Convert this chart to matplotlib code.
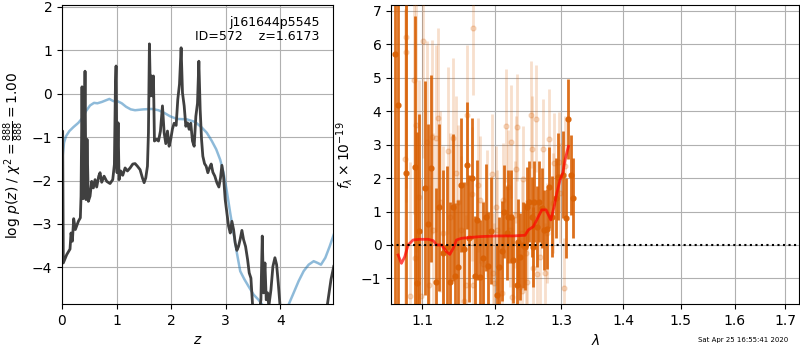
import matplotlib
matplotlib.use("Agg")
import matplotlib.pyplot as plt
from matplotlib.ticker import NullLocator, FixedLocator, FixedFormatter

# ---- redshift probability: log p(z) ----
z_pz = [0.0, 0.012, 0.024, 0.086, 0.147, 0.165, 0.19, 0.214, 0.245, 0.30, 0.336,
        0.349, 0.367, 0.385, 0.404, 0.422, 0.44, 0.459, 0.483, 0.514, 0.544,
        0.575, 0.606, 0.636, 0.673, 0.697, 0.728, 0.771, 0.82, 0.88, 0.93,
        0.96, 0.979, 0.991, 1.009, 1.028, 1.046, 1.076, 1.113, 1.156, 1.199,
        1.248, 1.297, 1.339, 1.382, 1.431, 1.474, 1.505, 1.535, 1.566, 1.584,
        1.602, 1.621, 1.639, 1.657, 1.676, 1.694, 1.731, 1.768, 1.804, 1.841,
        1.872, 1.902, 1.933, 1.963, 1.994, 2.024, 2.055, 2.092, 2.122, 2.153,
        2.183, 2.208, 2.239, 2.269, 2.30, 2.33, 2.36, 2.391, 2.422, 2.453,
        2.483, 2.508, 2.532, 2.557, 2.581, 2.612, 2.642, 2.673, 2.703, 2.734,
        2.765, 2.801, 2.838, 2.875, 2.905, 2.93, 2.96, 2.991, 3.021, 3.052,
        3.083, 3.113, 3.144, 3.174, 3.205, 3.235, 3.266, 3.297, 3.327, 3.364,
        3.401, 3.431, 3.462, 3.492, 3.52, 3.60, 3.645, 3.67, 3.694, 3.719,
        3.743, 3.768, 3.79, 3.829, 3.865, 3.902, 3.933, 3.963, 3.994, 4.03,
        4.795, 4.868, 4.93, 4.98]
logp = [-0.86, -0.86, -3.90, -3.71, -3.58, -3.21, -3.40, -2.88, -3.13, -2.94, -2.86,
        -2.36, 0.16, -2.42, -1.82, 0.52, -2.44, -1.05, -2.48, -2.36, -2.02,
        -2.17, -1.98, -2.15, -1.90, -1.82, -2.04, -1.90, -2.02, -2.07, -1.98,
        -1.63, 0.18, 0.64, -1.82, -0.67, -1.98, -1.78, -1.88, -1.71, -1.78,
        -1.71, -1.62, -1.61, -1.67, -1.75, -1.94, -2.05, -1.94, -1.67, -0.90,
        1.15, -0.05, 0.41, -0.05, 0.41, -1.09, -1.05, -1.09, -0.86, -0.28,
        -0.90, -1.15, -0.86, -1.21, -1.04, -0.81, -0.68, -0.73, -0.13, 0.22,
        1.06, 0.02, -0.28, -0.75, -0.67, -0.82, -0.68, -1.09, -1.21, -0.52,
        -0.22, 0.75, -0.36, -1.05, -1.44, -1.61, -1.67, -1.82, -1.71, -1.62,
        -1.81, -1.90, -2.05, -2.15, -1.94, -1.65, -1.90, -2.44, -2.75, -3.05,
        -3.21, -2.94, -3.13, -3.44, -3.61, -3.52, -3.35, -3.15, -3.36, -3.52,
        -3.82, -4.13, -4.25, -4.86, -5.2, -5.2, -4.75, -3.28, -4.59, -3.90,
        -4.75, -4.59, -4.90, -4.52, -3.98, -3.78, -3.94, -4.36, -4.86, -5.36,
        -5.36, -4.82, -4.28, -3.98]

# ---- prior-like smooth curve ----
z_prior = [0.0, 0.012, 0.037, 0.073, 0.135, 0.208, 0.30, 0.379, 0.44, 0.514, 0.587,
           0.648, 0.728, 0.807, 0.868, 0.942, 1.015, 1.095, 1.174, 1.26, 1.339,
           1.492, 1.645, 1.768, 1.872, 1.982, 2.104, 2.287, 2.44, 2.563, 2.654,
           2.746, 2.826, 2.899, 2.96, 3.021, 3.083, 3.144, 3.205, 3.266, 3.339,
           3.419, 3.511, 3.602, 3.694, 3.817, 4.06, 4.153, 4.245, 4.336, 4.428,
           4.52, 4.612, 4.685, 4.746, 4.826, 4.905, 4.979]
logp_prior = [-1.55, -1.44, -1.13, -0.98, -0.86, -0.77, -0.67, -0.55, -0.40, -0.27, -0.21,
              -0.22, -0.19, -0.15, -0.12, -0.17, -0.17, -0.22, -0.30, -0.36, -0.38,
              -0.36, -0.35, -0.38, -0.44, -0.52, -0.58, -0.59, -0.65, -0.78, -0.90,
              -1.09, -1.28, -1.52, -1.82, -2.25, -2.75, -3.21, -3.67, -4.09, -4.27,
              -4.44, -4.63, -4.75, -4.90, -5.2, -5.2, -4.86, -4.59, -4.32, -4.09,
              -3.94, -3.86, -3.90, -3.94, -3.78, -3.52, -3.25]

# ---- spectrum, weighted points ----
wave_a = [1.0644, 1.0687, 1.0786, 1.0903, 1.0938, 1.0961, 1.1036, 1.1080, 1.1120,
          1.1182, 1.1227, 1.1281, 1.1327, 1.1381, 1.1418, 1.1440, 1.1482, 1.1523,
          1.1570, 1.1611, 1.1639, 1.1682, 1.1719, 1.1752, 1.1790, 1.1837, 1.1875,
          1.1909, 1.1942, 1.2038, 1.2067, 1.2110, 1.2135, 1.2174, 1.2198, 1.2232,
          1.2271, 1.2320, 1.2345, 1.2370, 1.2411, 1.2446, 1.2481, 1.2511, 1.2545,
          1.2570, 1.2585, 1.2621, 1.2656, 1.2697, 1.2733, 1.2774, 1.2814, 1.2850,
          1.2917, 1.2954, 1.3021, 1.3068, 1.3110, 1.3152, 1.3189]
flux_a = [5.71, 4.19, 2.14, 2.34, -1.13, 0.43, 1.69, 0.63, 2.29,
          -1.10, 1.13, -0.25, -0.05, -1.10, 1.13, -0.93, -0.65, 1.79,
          -0.13, 2.38, 0.20, 1.99, -0.93, 0.75, -0.95, -0.40, 0.83,
          -0.62, 0.42, -1.50, -0.65, -0.17, 1.00, 0.35, 0.85, 0.85,
          -0.45, -1.20, 0.08, -0.35, 0.00, -0.05, 1.13, 1.30, 0.83,
          -0.07, 1.30, 0.55, 1.30, 1.10, 0.45, 0.47, 1.72, 0.85,
          1.40, 2.04, 2.10, 0.80, 3.76, 2.10, 1.40]
err_a = [8.0, 7.0, 5.5, 4.5, 4.5, 3.5, 3.2, 3.0, 2.8,
         2.8, 2.5, 2.5, 2.4, 2.4, 2.2, 2.2, 2.0, 2.0,
         2.0, 1.9, 1.9, 1.8, 1.8, 1.8, 1.7, 1.7, 1.6,
         1.6, 1.6, 1.5, 1.5, 1.5, 1.4, 1.4, 1.4, 1.4,
         1.3, 1.3, 1.3, 1.3, 1.3, 1.3, 1.2, 1.2, 1.2,
         1.2, 1.2, 1.2, 1.2, 1.2, 1.2, 1.2, 1.2, 1.2,
         1.2, 1.3, 1.3, 1.2, 1.2, 1.2, 1.2]

# ---- spectrum, unweighted points ----
wave_b = [1.0773, 1.0786, 1.0795, 1.0839, 1.0891, 1.0903, 1.0925, 1.0957, 1.0992,
          1.1014, 1.1067, 1.1093, 1.1125, 1.1147, 1.1191, 1.1214, 1.1236, 1.1281,
          1.1350, 1.1372, 1.1418, 1.1463, 1.1486, 1.1532, 1.1565, 1.1602, 1.1592,
          1.1672, 1.1686, 1.1696, 1.1757, 1.1790, 1.1837, 1.1885, 1.1956, 1.1970,
          1.1990, 1.2018, 1.2029, 1.2101, 1.2125, 1.2159, 1.2198, 1.2222, 1.2232,
          1.2257, 1.2296, 1.2311, 1.2320, 1.2360, 1.2395, 1.2405, 1.2421, 1.2471,
          1.2460, 1.2531, 1.2556, 1.2570, 1.2606, 1.2621, 1.2672, 1.2723, 1.2748,
          1.2774, 1.2814, 1.2876, 1.2891, 1.2969, 1.2980, 1.3058, 1.3047]
flux_b = [2.56, 5.78, 6.21, -1.53, 4.94, -0.40, 3.59, 1.43, -1.53,
          6.11, 3.09, -1.20, 3.24, 0.45, 3.19, 3.79, 1.30, 0.35,
          2.82, 0.85, 3.19, 2.16, 1.30, 0.45, -1.69, 3.89, -1.20,
          1.53, 6.48, -1.20, 1.79, 1.35, -0.57, 0.93, 2.12, -0.85,
          -1.13, 1.15, 0.45, -1.45, 1.35, 3.57, 1.74, 0.45, 3.09,
          -1.55, 0.90, 2.26, 3.52, -1.25, -1.37, 0.35, 1.96, -1.10,
          -0.25, 3.89, 2.86, -0.70, 3.77, -0.87, -0.35, 2.86, -0.85,
          0.35, 3.16, 1.25, 2.44, 2.49, 1.55, 2.36, -1.30]
err_b = [4.5, 4.5, 4.5, 4.0, 4.0, 4.0, 3.8, 3.5, 3.5,
         3.5, 3.0, 3.0, 2.9, 2.9, 2.8, 2.7, 2.7, 2.6,
         2.5, 2.5, 2.4, 2.3, 2.3, 2.2, 2.2, 2.1, 2.1,
         2.0, 2.0, 2.0, 2.0, 1.9, 1.9, 1.9, 1.8, 1.8,
         1.8, 1.8, 1.8, 1.7, 1.7, 1.7, 1.7, 1.7, 1.7,
         1.7, 1.6, 1.6, 1.6, 1.6, 1.6, 1.6, 1.6, 1.6,
         1.6, 1.6, 1.6, 1.6, 1.6, 1.6, 1.5, 1.5, 1.5,
         1.5, 1.5, 1.5, 1.5, 1.5, 1.5, 1.5, 1.5]

# ---- best-fit model ----
wave_model = [1.0688, 1.0731, 1.0774, 1.0817, 1.0882, 1.0970, 1.1080, 1.1147, 1.1192,
              1.1259, 1.1327, 1.1372, 1.1418, 1.1464, 1.1533, 1.1626, 1.1790, 1.2029,
              1.2272, 1.2445, 1.2495, 1.2570, 1.2698, 1.2764, 1.2836, 1.2887, 1.2928,
              1.2980, 1.3021, 1.3058, 1.3095, 1.3110]
flux_model = [-0.30, -0.55, -0.35, 0.00, 0.15, 0.17, 0.17, 0.13, 0.00,
              0.00, -0.20, -0.28, -0.10, 0.15, 0.20, 0.22, 0.25, 0.27,
              0.27, 0.29, 0.45, 0.55, 1.05, 1.05, 0.75, 1.15, 1.55,
              1.95, 2.15, 2.55, 2.84, 2.95]

xticks_z = [0, 1, 2, 3, 4]
xticks_wave = [1.1, 1.2, 1.3, 1.4, 1.5, 1.6, 1.7]
xtick_labels_wave = ["1.1", "1.2", "1.3", "1.4", "1.5", "1.6", "1.7"]

fig = plt.figure(figsize=(8, 3.5), dpi=100)

# ---- left panel ----
ax1 = fig.add_axes([0.0775, 0.131, 0.339, 0.854])
ax1.plot(z_prior, logp_prior, color="tab:blue", alpha=0.5, lw=1.8)
ax1.plot(z_pz, logp, color="0.25", lw=2)
ax1.set_xlim(0, 4.97)
ax1.set_ylim(-4.85, 2.04)
ax1.set_xticks(xticks_z)
ax1.grid(True)
ax1.set_xlabel(r"$z$", fontsize=10)
ax1.set_ylabel(r"log $p(z)$ / $\chi^2=\frac{888}{888}=1.00$", fontsize=10)
ax1.text(0.95, 0.965, "j161644p5545\nID=572    z=1.6173", transform=ax1.transAxes,
         ha="right", va="top", fontsize=9, linespacing=1.15)

# ---- right panel ----
ax2 = fig.add_axes([0.489, 0.131, 0.51, 0.854])
orange = (0.85, 0.38, 0.02)
ax2.errorbar(wave_a, flux_a, yerr=err_a, color=orange, alpha=0.9, marker="o", ms=3.5,
             linestyle="none", elinewidth=2, zorder=2)
ax2.errorbar(wave_b, flux_b, yerr=err_b, color=orange, alpha=0.2, marker="o", ms=3.5,
             linestyle="none", elinewidth=2, zorder=3)
ax2.plot(wave_model, flux_model, color="red", alpha=0.7, lw=2, zorder=4)
ax2.axhline(0, color="k", linestyle=":", lw=1.5, zorder=5)
ax2.set_xscale("log")
ax2.set_xlim(1.06, 1.729)
ax2.set_ylim(-1.77, 7.17)
ax2.xaxis.set_major_locator(FixedLocator(xticks_wave))
ax2.xaxis.set_major_formatter(FixedFormatter(xtick_labels_wave))
ax2.xaxis.set_minor_locator(NullLocator())
ax2.grid(True)
ax2.set_xlabel(r"$\lambda$", fontsize=10)
ax2.set_ylabel(r"$f_\lambda \times 10^{-19}$", fontsize=10)

fig.text(0.985, 0.02, "Sat Apr 25 16:55:41 2020", ha="right", va="bottom", fontsize=5)

fig.savefig("out.png", dpi=100)
